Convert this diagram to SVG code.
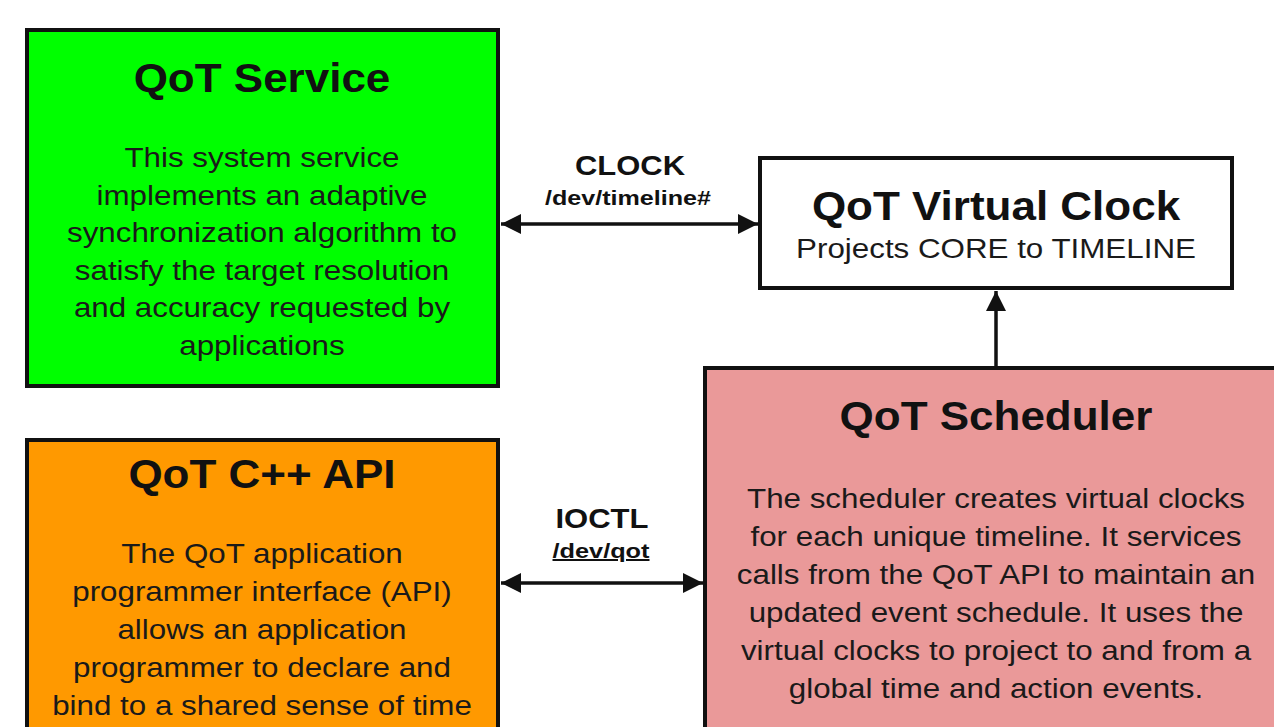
<svg xmlns="http://www.w3.org/2000/svg" width="1274" height="727" viewBox="0 0 1274 727">
  <style>
    .box { stroke: #111; stroke-width: 4; }
    .title { font-family: "Liberation Sans", Arial, sans-serif; font-weight: bold; font-size: 40px; fill: #111; text-anchor: middle; }
    .body { font-family: "Liberation Sans", Arial, sans-serif; font-size: 28.5px; fill: #1a1a1a; text-anchor: middle; }
    .lbl { font-family: "Liberation Sans", Arial, sans-serif; font-weight: bold; fill: #111; text-anchor: middle; }
    .conn { stroke: #111; stroke-width: 3.5; fill: none; }
  </style>
  <defs>
    <marker id="arrow" viewBox="0 0 10 10" refX="10" refY="5" markerWidth="24" markerHeight="20" markerUnits="userSpaceOnUse" orient="auto-start-reverse">
      <path d="M0,0 L10,5 L0,10 Z" fill="#111"/>
    </marker>
  </defs>
  <rect width="1274" height="727" fill="#fff"/>

  <!-- QoT Service -->
  <g id="qot-service">
    <rect class="box" x="27" y="30" width="471" height="356" fill="#00ff00"/>
    <g transform="translate(262 0) scale(1.1 1) translate(-262 0)">
      <text class="title" x="262" y="92">QoT Service</text>
      <text class="body" x="262" y="167">This system service</text>
      <text class="body" x="262" y="205">implements an adaptive</text>
      <text class="body" x="262" y="242">synchronization algorithm to</text>
      <text class="body" x="262" y="280">satisfy the target resolution</text>
      <text class="body" x="262" y="317">and accuracy requested by</text>
      <text class="body" x="262" y="355">applications</text>
    </g>
  </g>

  <!-- QoT C++ API -->
  <g id="qot-api">
    <rect class="box" x="27" y="440" width="471" height="300" fill="#ff9900"/>
    <g transform="translate(262 0) scale(1.1 1) translate(-262 0)">
      <text class="title" x="262" y="488">QoT C++ API</text>
      <text class="body" x="262" y="563">The QoT application</text>
      <text class="body" x="262" y="601">programmer interface (API)</text>
      <text class="body" x="262" y="639">allows an application</text>
      <text class="body" x="262" y="677">programmer to declare and</text>
      <text class="body" x="262" y="715">bind to a shared sense of time</text>
    </g>
  </g>

  <!-- QoT Virtual Clock -->
  <g id="qot-virtual-clock">
    <rect class="box" x="760" y="158" width="472" height="130" fill="#fff"/>
    <g transform="translate(996 0) scale(1.1 1) translate(-996 0)">
      <text class="title" x="996" y="220">QoT Virtual Clock</text>
      <text class="body" x="996" y="258">Projects CORE to TIMELINE</text>
    </g>
  </g>

  <!-- QoT Scheduler -->
  <g id="qot-scheduler">
    <rect class="box" x="705" y="368" width="582" height="380" fill="#ea9999"/>
    <g transform="translate(996 0) scale(1.1 1) translate(-996 0)">
      <text class="title" x="996" y="430">QoT Scheduler</text>
      <text class="body" x="996" y="508">The scheduler creates virtual clocks</text>
      <text class="body" x="996" y="546">for each unique timeline. It services</text>
      <text class="body" x="996" y="584">calls from the QoT API to maintain an</text>
      <text class="body" x="996" y="622">updated event schedule. It uses the</text>
      <text class="body" x="996" y="660">virtual clocks to project to and from a</text>
      <text class="body" x="996" y="698">global time and action events.</text>
    </g>
  </g>

  <!-- Connectors -->
  <g id="connectors">
    <line class="conn" x1="501" y1="224" x2="758" y2="224" marker-start="url(#arrow)" marker-end="url(#arrow)"/>
    <text class="lbl" x="630" y="175" font-size="28" textLength="110" lengthAdjust="spacingAndGlyphs">CLOCK</text>
    <text class="lbl" x="628" y="205" font-size="20" textLength="166" lengthAdjust="spacingAndGlyphs">/dev/timeline#</text>

    <line class="conn" x1="501" y1="583" x2="703" y2="583" marker-start="url(#arrow)" marker-end="url(#arrow)"/>
    <text class="lbl" x="602" y="528" font-size="28" textLength="93" lengthAdjust="spacingAndGlyphs">IOCTL</text>
    <text class="lbl" x="601" y="558" font-size="20" textLength="97" lengthAdjust="spacingAndGlyphs" text-decoration="underline">/dev/qot</text>

    <line class="conn" x1="996" y1="366" x2="996" y2="291" marker-end="url(#arrow)"/>
  </g>
</svg>
